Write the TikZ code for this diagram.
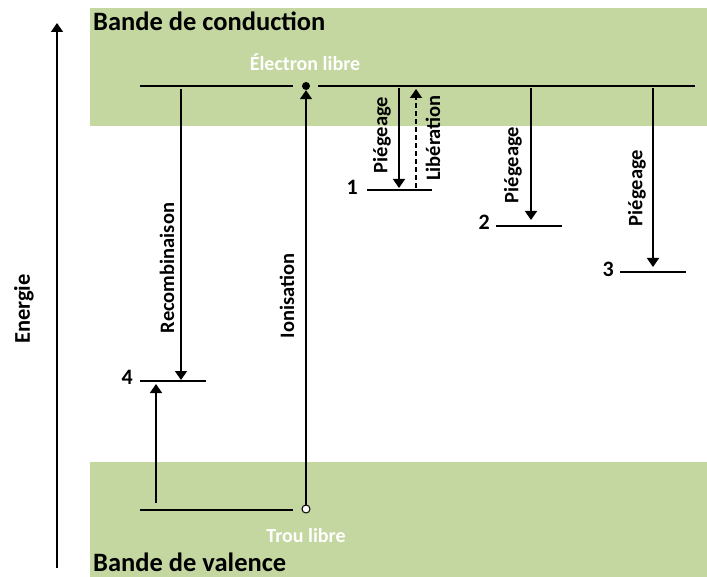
\documentclass[tikz,border=0pt]{standalone}
\usepackage{fontspec}
\setmainfont{Carlito}
\usetikzlibrary{arrows.meta}
\definecolor{band}{RGB}{196,215,160}
\begin{document}
\begin{tikzpicture}[x=1pt,y=-1pt,
  lvl/.style={line width=2pt},
  arr/.style={line width=1.6pt,-{Triangle[length=9pt,width=12pt]}},
  lab/.style={font=\bfseries\fontsize{20.5}{20.5}\selectfont,rotate=90,inner sep=0pt},
  num/.style={font=\bfseries\fontsize{22}{22}\selectfont,inner sep=0pt,anchor=east},
  wlab/.style={font=\bfseries\fontsize{20}{20}\selectfont,text=white,inner sep=0pt},
  title/.style={font=\bfseries\fontsize{26.5}{26.5}\selectfont,inner sep=0pt,anchor=base west}]
\useasboundingbox (0,0) rectangle (707,577);
\fill[band] (90,8) rectangle (707,126);
\fill[band] (90,462) rectangle (707,577);
\node[title] (tc) at (93,31) {Bande de conduction};
\node[title] (tv) at (93,571) {Bande de valence};
% energy axis
\coordinate (ea) at (57,568);
\coordinate (eb) at (57,23);
\draw[arr] (ea) -- (eb);
\node[font=\bfseries\fontsize{22.5}{22.5}\selectfont,rotate=90,inner sep=0pt] (en) at (24,309) {Energie};
% conduction line
\coordinate (cl) at (140,86);
\coordinate (cm) at (293,86);
\coordinate (cn) at (318,86);
\coordinate (cr) at (695,86);
\draw[lvl] (cl) -- (cm);
\draw[lvl] (cn) -- (cr);
\node[circle,fill=black,inner sep=0pt,minimum size=8pt] (el) at (306,86) {};
\node[wlab] (elt) at (305,62) {Électron libre};
% valence line
\coordinate (vl) at (140,510);
\coordinate (vm) at (293,510);
\draw[lvl] (vl) -- (vm);
\node[circle,draw=black,line width=1pt,fill=white,inner sep=0pt,minimum size=8pt] (tr) at (306,509) {};
\node[wlab] (trt) at (306,536) {Trou libre};
% levels
\coordinate (l1a) at (367,190); \coordinate (l1b) at (432,190);
\coordinate (l2a) at (496,226); \coordinate (l2b) at (562,226);
\coordinate (l3a) at (620,272); \coordinate (l3b) at (686,272);
\coordinate (l4a) at (140,381); \coordinate (l4b) at (206,381);
\draw[lvl] (l1a) -- (l1b);
\draw[lvl] (l2a) -- (l2b);
\draw[lvl] (l3a) -- (l3b);
\draw[lvl] (l4a) -- (l4b);
\node[num] (n1) at (358,187) {1};
\node[num] (n2) at (490,222) {2};
\node[num] (n3) at (614,269) {3};
\node[num] (n4) at (133,377) {4};
% ionisation
\draw[arr] (tr.north) -- (el.south);
\node[lab] (ion) at (287,296) {Ionisation};
% recombinaison
\coordinate (r0) at (181,89);
\coordinate (r1) at (181,380);
\draw[arr] (r0) -- (r1);
\node[lab] (rec) at (167,268) {Recombinaison};
% hole to level 4
\coordinate (h0) at (156,503);
\coordinate (h1) at (156,384);
\draw[arr] (h0) -- (h1);
% trapping 1
\coordinate (p1a) at (399,88); \coordinate (p1b) at (399,188);
\draw[arr] (p1a) -- (p1b);
\node[lab] (pl1) at (382,135) {Piégeage};
\coordinate (b1a) at (416,188); \coordinate (b1b) at (416,89);
\draw[arr,dash pattern=on 5pt off 3pt] (b1a) -- (b1b);
\node[lab] (lib) at (433,138) {Libération};
% trapping 2
\coordinate (p2a) at (531,88); \coordinate (p2b) at (531,220);
\draw[arr] (p2a) -- (p2b);
\node[lab] (pl2) at (513,165) {Piégeage};
% trapping 3
\coordinate (p3a) at (653,88); \coordinate (p3b) at (653,267);
\draw[arr] (p3a) -- (p3b);
\node[lab] (pl3) at (637,188) {Piégeage};
\end{tikzpicture}
\end{document}
